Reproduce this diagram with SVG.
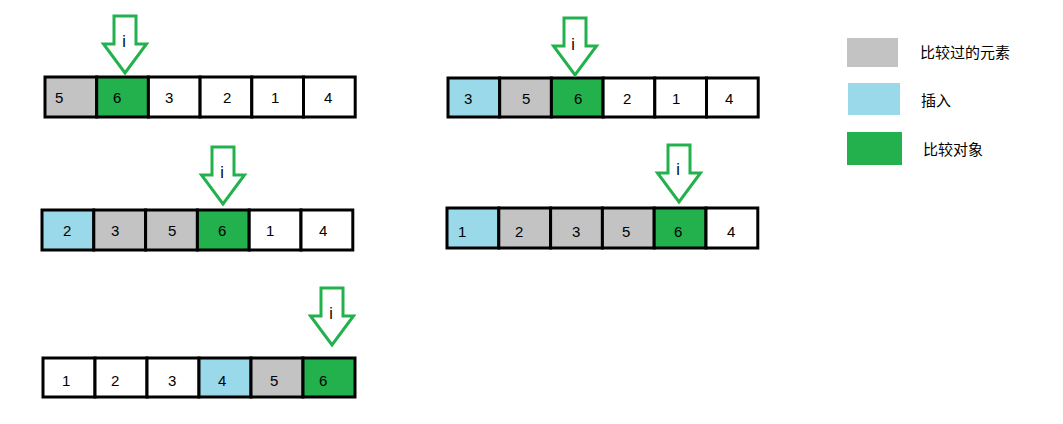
<svg xmlns="http://www.w3.org/2000/svg" width="1063" height="424" viewBox="0 0 1063 424">
<style>
.c{stroke:#000;stroke-width:3}
.g{fill:#c3c3c3}.b{fill:#99d9ea}.k{fill:#22b14c}.w{fill:#fff}
.t{font-family:"Liberation Sans","Noto Sans CJK SC",sans-serif;font-size:15px;fill:#000}
.i{font-family:"Liberation Sans",sans-serif;font-size:16px;fill:#000;text-anchor:middle}
.l{font-family:"Noto Sans CJK SC",sans-serif;font-size:15px;fill:#000}
.arr{fill:#fff;stroke:#22b14c;stroke-width:3}
</style>
<defs>
<path id="arrow" d="M-11,0 H11 V28 H21.5 L0,57 L-21.5,28 H-11 Z"/>
</defs>
<rect width="1063" height="424" fill="#fff"/>

<g id="row1-left">
<rect class="c g" x="45" y="77" width="51.7" height="40"/>
<rect class="c k" x="96.7" y="77" width="51.7" height="40"/>
<rect class="c w" x="148.4" y="77" width="51.7" height="40"/>
<rect class="c w" x="200.1" y="77" width="51.7" height="40"/>
<rect class="c w" x="251.8" y="77" width="51.7" height="40"/>
<rect class="c w" x="303.5" y="77" width="51.7" height="40"/>
<text class="t" x="55" y="103">5</text>
<text class="t" x="113" y="103">6</text>
<text class="t" x="165" y="103">3</text>
<text class="t" x="223" y="103">2</text>
<text class="t" x="271" y="103">1</text>
<text class="t" x="324" y="103">4</text>
</g>
<g id="arrow1"><use href="#arrow" class="arr" transform="translate(125,16)"/><text class="i" x="124" y="47">i</text></g>

<g id="row1-right">
<rect class="c b" x="448" y="78" width="51.7" height="39"/>
<rect class="c g" x="499.7" y="78" width="51.7" height="39"/>
<rect class="c k" x="551.4" y="78" width="51.7" height="39"/>
<rect class="c w" x="603.1" y="78" width="51.7" height="39"/>
<rect class="c w" x="654.8" y="78" width="51.7" height="39"/>
<rect class="c w" x="706.5" y="78" width="51.7" height="39"/>
<text class="t" x="464" y="104">3</text>
<text class="t" x="522" y="104">5</text>
<text class="t" x="574" y="104">6</text>
<text class="t" x="623" y="104">2</text>
<text class="t" x="672" y="104">1</text>
<text class="t" x="725" y="104">4</text>
</g>
<g id="arrow2"><use href="#arrow" class="arr" transform="translate(575,18)"/><text class="i" x="573" y="50">i</text></g>

<g id="row2-left">
<rect class="c b" x="42" y="210" width="51.8" height="40"/>
<rect class="c g" x="93.8" y="210" width="51.8" height="40"/>
<rect class="c g" x="145.6" y="210" width="51.8" height="40"/>
<rect class="c k" x="197.4" y="210" width="51.8" height="40"/>
<rect class="c w" x="249.2" y="210" width="51.8" height="40"/>
<rect class="c w" x="301" y="210" width="51.8" height="40"/>
<text class="t" x="63" y="236">2</text>
<text class="t" x="111" y="236">3</text>
<text class="t" x="168" y="236">5</text>
<text class="t" x="218" y="236">6</text>
<text class="t" x="266" y="236">1</text>
<text class="t" x="319" y="236">4</text>
</g>
<g id="arrow3"><use href="#arrow" class="arr" transform="translate(223,147)"/><text class="i" x="222" y="178">i</text></g>

<g id="row2-right">
<rect class="c b" x="447" y="208" width="51.8" height="40"/>
<rect class="c g" x="498.8" y="208" width="51.8" height="40"/>
<rect class="c g" x="550.6" y="208" width="51.8" height="40"/>
<rect class="c g" x="602.4" y="208" width="51.8" height="40"/>
<rect class="c k" x="654.2" y="208" width="51.8" height="40"/>
<rect class="c w" x="706" y="208" width="51.8" height="40"/>
<text class="t" x="458" y="237">1</text>
<text class="t" x="515" y="237">2</text>
<text class="t" x="572" y="237">3</text>
<text class="t" x="622" y="237">5</text>
<text class="t" x="674" y="237">6</text>
<text class="t" x="727" y="237">4</text>
</g>
<g id="arrow4"><use href="#arrow" class="arr" transform="translate(679,145)"/><text class="i" x="678" y="175">i</text></g>

<g id="row3">
<rect class="c w" x="43" y="358" width="52" height="39"/>
<rect class="c w" x="95" y="358" width="52" height="39"/>
<rect class="c w" x="147" y="358" width="52" height="39"/>
<rect class="c b" x="199" y="358" width="52" height="39"/>
<rect class="c g" x="251" y="358" width="52" height="39"/>
<rect class="c k" x="303" y="358" width="52" height="39"/>
<text class="t" x="62" y="386">1</text>
<text class="t" x="111" y="386">2</text>
<text class="t" x="168" y="386">3</text>
<text class="t" x="218" y="386">4</text>
<text class="t" x="270" y="386">5</text>
<text class="t" x="319" y="386">6</text>
</g>
<g id="arrow5"><use href="#arrow" class="arr" transform="translate(332,288)"/><text class="i" x="331" y="319">i</text></g>

<g id="legend">
<rect class="g" x="847" y="38" width="51" height="29"/>
<rect class="b" x="848" y="83" width="52" height="32"/>
<rect class="k" x="847" y="132" width="55" height="33"/>
<text class="l" x="920" y="58">比较过的元素</text>
<text class="l" x="921" y="106">插入</text>
<text class="l" x="923" y="155">比较对象</text>
</g>
</svg>
